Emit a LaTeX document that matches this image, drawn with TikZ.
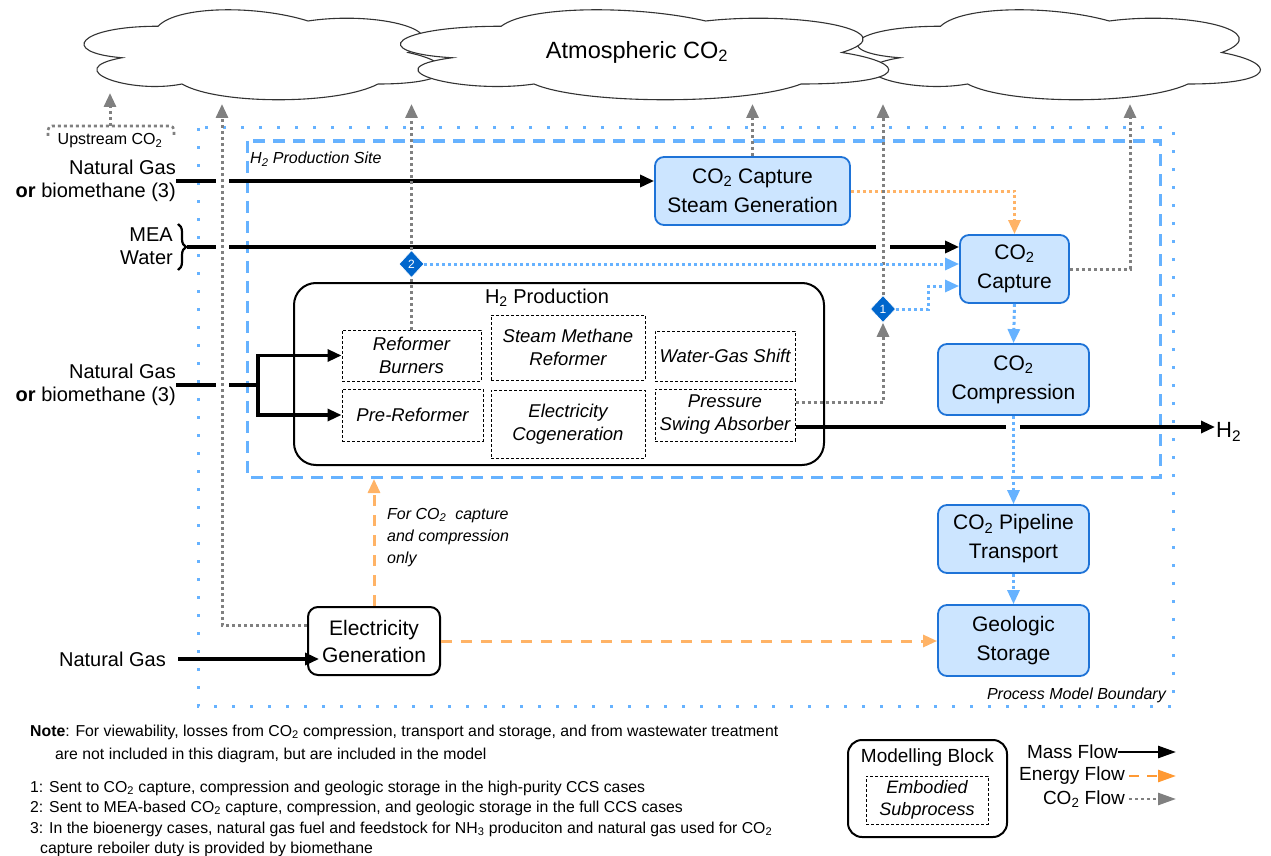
\documentclass[tikz,border=0pt]{standalone}
\usepackage{fontspec}
\setmainfont{Liberation Sans}
\usetikzlibrary{arrows.meta,shapes.geometric,decorations.pathreplacing,calc}
\newcommand\COtwo{CO\textsubscript{2}}
\definecolor{bblue}{RGB}{102,178,255}
\definecolor{boxfill}{RGB}{204,229,255}
\definecolor{boxline}{RGB}{30,115,215}
\definecolor{eorange}{RGB}{255,179,102}
\definecolor{lorange}{RGB}{255,153,51}
\definecolor{cgray}{RGB}{128,128,128}
\definecolor{dblue}{RGB}{0,102,204}
\newcommand\drawiocloud[4]{%
\begin{scope}[shift={(#1,#2)},x=#3pt,y=-#4pt]
\draw[fill=white,draw=black!80,line width=1.1pt] (0.25,0.25) .. controls (0.05,0.25) and (0,0.5) .. (0.16,0.55)
 .. controls (0,0.66) and (0.18,0.9) .. (0.31,0.8)
 .. controls (0.4,1) and (0.7,1) .. (0.8,0.8)
 .. controls (1,0.8) and (1,0.6) .. (0.875,0.5)
 .. controls (1,0.3) and (0.8,0.1) .. (0.625,0.2)
 .. controls (0.5,0.05) and (0.3,0.05) .. (0.25,0.25) -- cycle;
\end{scope}}
\tikzset{
 lbl/.style={font=\fontsize{20}{23}\selectfont, align=right, inner sep=0pt},
 bbox/.style={draw=boxline, fill=boxfill, line width=1.8pt, rounded corners=9pt, align=center, font=\fontsize{21}{29}\selectfont, inner sep=0pt},
 kbox/.style={draw=black, fill=white, line width=2pt, rounded corners=10pt, align=center, font=\fontsize{21}{27}\selectfont, inner sep=0pt},
 subp/.style={draw=black, dash pattern=on 3pt off 2pt, line width=1pt, align=center, font=\fontsize{18.5}{23}\selectfont\itshape, inner sep=0pt},
 dia/.style={diamond, fill=dblue, draw=white, line width=0.6pt, minimum width=25pt, minimum height=27pt, inner sep=0pt, text=white, font=\fontsize{12}{12}\selectfont},
 tip/.style={-{Triangle[length=14pt,width=12pt]}},
 mass/.style={draw=black, line width=3.2pt, tip},
 massl/.style={draw=black, line width=3.2pt},
 energy/.style={draw=eorange, line width=3pt, dash pattern=on 11pt off 9pt, tip},
 edot/.style={draw=eorange, line width=3pt, dash pattern=on 3pt off 3pt, tip},
 cog/.style={draw=cgray, line width=3pt, dash pattern=on 3pt off 3pt, tip},
 cogl/.style={draw=cgray, line width=3pt, dash pattern=on 3pt off 3pt},
 cob/.style={draw=bblue, line width=3pt, dash pattern=on 3pt off 3pt, tip},
 note/.style={font=\fontsize{15.8}{19}\selectfont, inner sep=0pt, anchor=base west},
 ital/.style={font=\fontsize{16}{22}\selectfont\itshape, inner sep=0pt},
}
\begin{document}
\begin{tikzpicture}[x=1pt,y=-1pt]
\useasboundingbox (0,0) rectangle (1271,856);
% clouds
\drawiocloud{58}{0}{400}{105}
\drawiocloud{828}{0}{450}{105}
\drawiocloud{365}{0}{545}{105}
\node[font=\fontsize{23.5}{26}\selectfont] (atm) at (637,52) {Atmospheric \COtwo};
\coordinate (sky) at (0,104);
% boundaries
\draw[bblue, line width=3pt, dash pattern=on 3pt off 15pt] (198,128) rectangle (1173,706);
\draw[bblue, line width=3pt, dash pattern=on 12pt off 8pt] (247,141) rectangle (1160,477);
\node[ital, anchor=base west] (site) at (250,164) {H\textsubscript{2} Production Site};
\node[ital, anchor=base east] (pmb) at (1166,699) {Process Model Boundary};
% upstream
\draw[cgray, line width=2.6pt, dash pattern=on 3pt off 3pt, rounded corners=4pt] (48,136) -- (48,126) -- (174,126) -- (174,136);
\node[font=\fontsize{16}{18}\selectfont, inner sep=0pt] (ups) at (110,141) {Upstream \COtwo};
\coordinate (upo) at (110,126);
\draw[cog] (upo) -- (110,93);
% boxes
\node[bbox, minimum width=195pt, minimum height=68pt] (sg) at (752.5,191) {\COtwo\ Capture\\Steam Generation};
\node[bbox, minimum width=109pt, minimum height=68pt] (cap) at (1014.5,269) {\COtwo\\Capture};
\node[bbox, minimum width=151pt, minimum height=71pt] (comp) at (1013.5,379.5) {\COtwo\\Compression};
\node[bbox, minimum width=151pt, minimum height=68pt] (pipe) at (1013.5,539) {\COtwo\ Pipeline\\Transport};
\node[bbox, minimum width=151pt, minimum height=71pt] (geo) at (1013.5,640.5) {Geologic\\Storage};
\node[kbox, rounded corners=22pt, minimum width=530pt, minimum height=182pt] (h2p) at (559,374) {};
\node[font=\fontsize{20}{23}\selectfont, inner sep=0pt] (h2pt) at (547,298) {H\textsubscript{2} Production};
\node[subp, minimum width=139pt, minimum height=51pt] (rb) at (411.5,355.5) {Reformer\\Burners};
\node[subp, minimum width=141pt, minimum height=52pt] (pr) at (412.5,415) {Pre-Reformer};
\node[subp, minimum width=154pt, minimum height=65pt] (smr) at (568,347.5) {Steam Methane\\Reformer};
\node[subp, minimum width=154pt, minimum height=68pt] (ec) at (568,424) {Electricity\\Cogeneration};
\node[subp, minimum width=140pt, minimum height=50pt] (wgs) at (725,356) {Water-Gas Shift};
\node[subp, minimum width=140pt, minimum height=52pt] (psa) at (725,415) {Pressure\\Swing Absorber};
\node[kbox, minimum width=132pt, minimum height=68pt] (eg) at (374,641) {Electricity\\Generation};
\node[dia] (d2) at (411.5,264) {2};
\node[dia] (d1) at (883,309) {1};
% input labels
\node[lbl, anchor=east] (ng1) at (176,181) {Natural Gas\\\textbf{or} biomethane (3)};
\node[lbl, anchor=east] (ng2) at (176,385) {Natural Gas\\\textbf{or} biomethane (3)};
\node[lbl, anchor=east] (ng3) at (166,659) {Natural Gas};
\node[lbl, anchor=east] (mw) at (173,246) {MEA\\Water};
\draw[line width=2.2pt, decorate, decoration={brace, amplitude=8pt}] (178,224) -- (178,270);
\coordinate (mea) at (187,247);
\node[font=\fontsize{22}{24}\selectfont, inner sep=1pt, anchor=west] (h2) at (1215,432) {H\textsubscript{2}};
% mass flows
\draw[mass] (ng1.east) -- (ng1.east -| sg.west);
\draw[mass] (mea) -- (mea -| cap.west);
\draw[massl] (ng2.east) -- ++(82,0) coordinate (j2);
\draw[mass] (j2) |- (rb.west);
\draw[mass] (j2) |- (pr.west);
\draw[mass] ([xshift=12pt]ng3.east) -- ([xshift=12pt]ng3.east -| eg.west);
\path ([yshift=-12pt]psa.east) coordinate (psao);
\draw[mass] (psao) -- (psao -| h2.west);
% line jumps
\fill[white] (216,174) rectangle (229,188);
\fill[white] (216,240) rectangle (229,254);
\fill[white] (876,240) rectangle (890,254);
\fill[white] (216,378) rectangle (229,392);
\fill[white] (1006,420) rectangle (1020,434);
% energy flows
\draw[edot] (sg.east) -| (cap.north);
\coordinate (sitebot) at (374,479);
\draw[energy] (eg.north) -- (sitebot);
\draw[energy] (eg.east) -- (eg.east -| geo.west);
\node[ital, anchor=north west, align=left] (fcc) at (387,508) {For \COtwo\ \ capture\\and compression\\only};
% co2 flows
\draw[cog] (sg.north) -- (sg.north |- sky);
\draw[cogl] (rb.north) -- (d2.south);
\draw[cog] (d2.north) -- (d2.north |- sky);
\draw[cog] ([yshift=13pt]psa.east) -| (d1.south);
\draw[cog] (d1.north) -- (d1.north |- sky);
\coordinate (o3) at (1130,104);
\draw[cog] (cap.east) -| (o3);
\coordinate (o1) at (222,104);
\draw[cog] ([yshift=16pt]eg.west) -| (o1);
\draw[cob] (d2.east) -- (d2.east -| cap.west);
\draw[cob] (d1.east) -- ++(33,0) |- (cap.west |- 0,286);
\draw[cob] (cap.south) -- (comp.north);
\draw[cob] (comp.south) -- (pipe.north);
\draw[cob] (pipe.south) -- (geo.north);
% notes
\node[note] (n0) at (30,736) {\textbf{Note}: For viewability, losses from \COtwo\ compression, transport and storage, and from wastewater treatment};
\node[note] (n0b) at (55,759) {are not included in this diagram, but are included in the model};
\node[note] (n1) at (30,792) {1: Sent to \COtwo\ capture, compression and geologic storage in the high-purity CCS cases};
\node[note] (n2) at (30,812) {2: Sent to MEA-based \COtwo\ capture, compression, and geologic storage in the full CCS cases};
\node[note] (n3) at (30,833) {3: In the bioenergy cases, natural gas fuel and feedstock for NH\textsubscript{3} produciton and natural gas used for \COtwo};
\node[note] (n3b) at (40,853) {capture reboiler duty is provided by biomethane};
% legend
\node[kbox, rounded corners=14pt, minimum width=159pt, minimum height=97pt] (mb) at (927.5,788.5) {};
\node[font=\fontsize{19}{22}\selectfont, inner sep=0pt] (mbt) at (927.5,758) {Modelling Block};
\node[subp, font=\fontsize{18}{22}\selectfont\itshape, minimum width=122pt, minimum height=48pt] (es) at (927,800) {Embodied\\Subprocess};
\node[font=\fontsize{19}{22}\selectfont, inner sep=0pt, anchor=east] (lm) at (1118,752) {Mass Flow};
\node[font=\fontsize{19}{22}\selectfont, inner sep=0pt, anchor=east] (le) at (1125,776) {Energy Flow};
\node[font=\fontsize{19}{22}\selectfont, inner sep=0pt, anchor=east] (lc) at (1125,799) {\COtwo\ Flow};
\coordinate (lme) at (1176,752);
\coordinate (lee) at (1176,776);
\coordinate (lce) at (1176,799);
\draw[line width=2.6pt, -{Triangle[length=18pt,width=12pt]}] (lm.east) -- (lme);
\draw[lorange, line width=2.6pt, dash pattern=on 10pt off 8pt, -{Triangle[length=18pt,width=12pt]}] ([xshift=4pt]le.east) -- (lee);
\draw[cgray, line width=2.6pt, dash pattern=on 3pt off 3pt, -{Triangle[length=18pt,width=12pt]}] ([xshift=4pt]lc.east) -- (lce);
\end{tikzpicture}
\end{document}
